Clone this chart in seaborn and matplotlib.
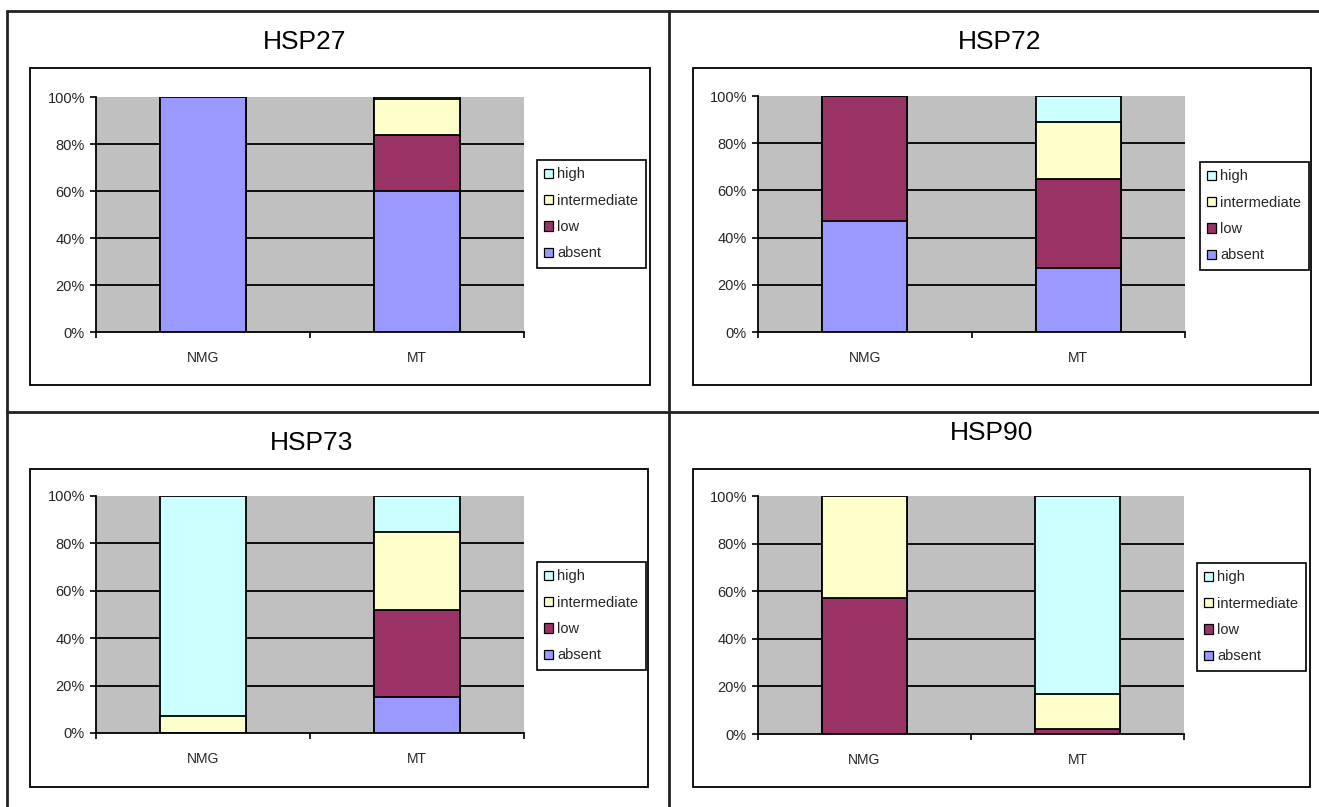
import matplotlib
matplotlib.use("Agg")
import matplotlib.pyplot as plt
import seaborn as sns
from matplotlib.patches import Rectangle, Patch
from matplotlib.lines import Line2D
from matplotlib.ticker import PercentFormatter, FixedLocator

# ---- data (percent of cases per staining level) ----
categories = ["NMG", "MT"]
levels = ["absent", "low", "intermediate", "high"]

hsp27_absent = [100, 60]
hsp27_low = [0, 24]
hsp27_intermediate = [0, 15]
hsp27_high = [0, 1]

hsp72_absent = [47, 27]
hsp72_low = [53, 38]
hsp72_intermediate = [0, 24]
hsp72_high = [0, 11]

hsp73_absent = [0, 15]
hsp73_low = [0, 37]
hsp73_intermediate = [7, 33]
hsp73_high = [93, 15]

hsp90_absent = [0, 0]
hsp90_low = [57, 2]
hsp90_intermediate = [43, 15]
hsp90_high = [0, 83]

panel_titles = ["HSP27", "HSP72", "HSP73", "HSP90"]
yticks = [0, 20, 40, 60, 80, 100]

level_colors = {
    "absent": "#9999FF",
    "low": "#993366",
    "intermediate": "#FFFFCC",
    "high": "#CCFFFF",
}

panels = [
    (hsp27_absent, hsp27_low, hsp27_intermediate, hsp27_high),
    (hsp72_absent, hsp72_low, hsp72_intermediate, hsp72_high),
    (hsp73_absent, hsp73_low, hsp73_intermediate, hsp73_high),
    (hsp90_absent, hsp90_low, hsp90_intermediate, hsp90_high),
]

# ---- layout (pixel boxes: x0, y0, x1, y1) ----
W, H = 1319, 807
chart_boxes = [(30, 68, 650, 385), (693, 68, 1311, 385),
               (30, 469, 648, 787), (693, 469, 1310, 787)]
plot_boxes = [(96, 97, 524, 332), (758, 96, 1185, 332),
              (96, 496, 524, 733), (758, 496, 1184, 734)]
legend_anchor = [(537, 160), (1200, 162), (537, 562), (1197, 563)]
title_pos = [(305, 42), (1000, 42), (312, 443), (992, 433)]

sns.set_style("white")
plt.rcParams["font.family"] = ["Liberation Sans", "DejaVu Sans"]

fig = plt.figure(figsize=(W / 100, H / 100), dpi=100)
fig.patch.set_facecolor("white")


def fx(x):
    return x / W


def fy(y):
    return 1 - y / H


# outer frame and dividers between the four panels
frame_kw = dict(color="#222222", lw=2.0, transform=fig.transFigure)
fig.add_artist(Line2D([fx(7), fx(7)], [fy(11), 0], **frame_kw))
fig.add_artist(Line2D([fx(7), 1], [fy(11), fy(11)], **frame_kw))
fig.add_artist(Line2D([fx(669), fx(669)], [fy(11), 0], **frame_kw))
fig.add_artist(Line2D([fx(7), 1], [fy(412), fy(412)], **frame_kw))

for i, (absent, low, inter, high) in enumerate(panels):
    # chart area box
    cx0, cy0, cx1, cy1 = chart_boxes[i]
    fig.add_artist(Rectangle((fx(cx0), fy(cy1)), (cx1 - cx0) / W, (cy1 - cy0) / H,
                             transform=fig.transFigure, facecolor="white",
                             edgecolor="black", lw=1.3, zorder=0))

    px0, py0, px1, py1 = plot_boxes[i]
    ax = fig.add_axes([fx(px0), fy(py1), (px1 - px0) / W, (py1 - py0) / H])
    ax.set_facecolor("#C0C0C0")

    # stacked bars: draw cumulative totals from the top segment down
    series = {"absent": absent, "low": low, "intermediate": inter, "high": high}
    cum = {}
    running = [0, 0]
    for lvl in levels:
        running = [r + v for r, v in zip(running, series[lvl])]
        cum[lvl] = list(running)
    for lvl in reversed(levels):
        sns.barplot(x=categories, y=cum[lvl], color=level_colors[lvl],
                    saturation=1, width=0.4, edgecolor="black", linewidth=1.3,
                    ax=ax, zorder=3)

    ax.set_xlim(-0.5, 1.5)
    ax.set_ylim(0, 100)
    ax.set_xlabel("")
    ax.set_ylabel("")
    ax.set_yticks(yticks)
    ax.yaxis.set_major_formatter(PercentFormatter(xmax=100, decimals=0))
    ax.yaxis.grid(True, color="black", lw=1.3)
    ax.xaxis.grid(False)
    ax.yaxis.get_gridlines()[0].set_visible(False)
    ax.yaxis.get_gridlines()[-1].set_visible(False)
    ax.set_axisbelow(True)

    for side in ("top", "right"):
        ax.spines[side].set_visible(False)
    for side in ("left", "bottom"):
        ax.spines[side].set_color("black")
        ax.spines[side].set_linewidth(1.3)

    ax.tick_params(axis="y", direction="out", length=4, width=1.2, color="black",
                   pad=4, labelsize=10.5, left=True)
    ax.tick_params(axis="x", which="major", length=0, pad=14, labelsize=10)
    ax.xaxis.set_minor_locator(FixedLocator([-0.5, 0.5, 1.5]))
    ax.tick_params(axis="x", which="minor", direction="out", length=4, width=1.2,
                   color="black", bottom=True)

    # legend, listed from the top segment down
    legend_levels = list(reversed(levels))
    handles = [Patch(facecolor=level_colors[l], edgecolor="black", lw=0.9)
               for l in legend_levels]
    lx, ly = legend_anchor[i]
    leg = ax.legend(handles, legend_levels, loc="upper left",
                    bbox_to_anchor=(fx(lx), fy(ly)), bbox_transform=fig.transFigure,
                    borderaxespad=0, fontsize=10.5, frameon=True, fancybox=False,
                    edgecolor="black", framealpha=1, handlelength=0.6,
                    handleheight=0.6, handletextpad=0.3, labelspacing=0.85,
                    borderpad=0.5)
    leg.get_frame().set_linewidth(1.2)

    tx, ty = title_pos[i]
    fig.text(fx(tx), fy(ty), panel_titles[i], ha="center", va="center",
             fontsize=19, color="black")

fig.savefig("out.png", dpi=100, facecolor="white")
